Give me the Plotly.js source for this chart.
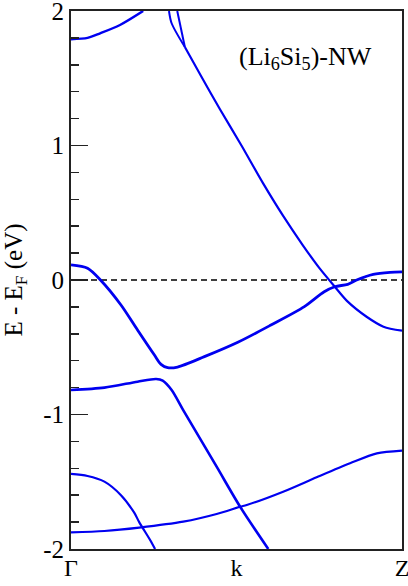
<!DOCTYPE html>
<html>
<head>
<meta charset="utf-8">
<script src="https://cdn.plot.ly/plotly-3.0.1.min.js"></script>
<style>
  html, body { margin: 0; padding: 0; background: #fff; }
  #chart { width: 408px; height: 586px; }
</style>
</head>
<body>
<div id="chart"></div>
<script>
// band energies (eV, relative to E_F) along Γ -> Z, k in [0,1]
var bandA_k = [0, 0.05, 0.088, 0.148, 0.218];
var bandA_E = [1.79, 1.80, 1.834, 1.896, 2.0];

var bandB_k = [0.296, 0.304, 0.344];
var bandB_E = [2.0, 1.909, 1.732];

var bandB2_k = [0.321, 0.344];
var bandB2_E = [2.0, 1.732];

var bandD_k = [0.344, 0.392, 0.45, 0.515, 0.58, 0.64, 0.70, 0.75, 0.797, 0.836, 0.893, 0.944, 1.0];
var bandD_E = [1.732, 1.52, 1.27, 1.0, 0.72, 0.48, 0.26, 0.09, -0.05, -0.161, -0.273, -0.347, -0.377];

var bandC_k = [0, 0.05, 0.089, 0.151, 0.201, 0.252, 0.272, 0.292, 0.322, 0.403, 0.504, 0.604, 0.705, 0.765, 0.797, 0.836, 0.863, 0.913, 0.964, 1.0];
var bandC_E = [0.112, 0.087, 0.0, -0.186, -0.372, -0.558, -0.627, -0.652, -0.647, -0.570, -0.463, -0.335, -0.198, -0.087, -0.05, -0.032, 0.0, 0.042, 0.057, 0.06];

var bandE_k = [0, 0.101, 0.201, 0.257, 0.277, 0.304, 0.339, 0.44, 0.511, 0.596];
var bandE_E = [-0.818, -0.80, -0.756, -0.736, -0.748, -0.818, -0.967, -1.388, -1.686, -2.0];

var bandF_k = [0, 0.101, 0.206, 0.339, 0.44, 0.511, 0.531, 0.641, 0.742, 0.843, 0.924, 1.0];
var bandF_E = [-1.876, -1.866, -1.841, -1.797, -1.74, -1.686, -1.673, -1.574, -1.467, -1.363, -1.289, -1.268];

var bandG_k = [0, 0.05, 0.101, 0.151, 0.191, 0.206, 0.239, 0.254];
var bandG_E = [-1.442, -1.457, -1.499, -1.60, -1.73, -1.80, -1.933, -2.0];

var fermi_k = [0, 1];
var fermi_E = [0, 0];

var kTicks = [0, 0.5, 1];
var kLabels = ["Γ", "k", "Z"];
var eTicks = [-2, -1, 0, 1, 2];
var eLabels = ["-2", "-1", "0", "1", "2"];

var BLUE = "#0000f0";
function band(x, y, w) {
  return { x: x, y: y, mode: "lines", line: { color: BLUE, width: w, shape: "spline", smoothing: 0.8 },
    hoverinfo: "skip", showlegend: false };
}

var traces = [
  { x: fermi_k, y: fermi_E, mode: "lines", line: { color: "#000", width: 1.5, dash: "6px,4px" }, showlegend: false },
  band(bandA_k, bandA_E, 2.5),
  band(bandB_k, bandB_E, 2),
  band(bandB2_k, bandB2_E, 2),
  band(bandD_k, bandD_E, 2.2),
  band(bandC_k, bandC_E, 2.8),
  band(bandE_k, bandE_E, 2.6),
  band(bandF_k, bandF_E, 2.2),
  band(bandG_k, bandG_E, 2.2)
];

var FONT = "Liberation Serif, Times New Roman, serif";

var layout = {
  width: 408, height: 586,
  margin: { l: 71, r: 6, t: 11, b: 37 },
  paper_bgcolor: "#fff", plot_bgcolor: "#fff",
  font: { family: FONT, size: 25, color: "#000" },
  xaxis: {
    range: [0, 1], tickvals: kTicks, ticktext: kLabels, ticks: "",
    showgrid: false, zeroline: false, showline: true, mirror: true,
    linecolor: "#222", linewidth: 2, tickfont: { size: 24, family: FONT },
    ticklabeloverflow: "allow", ticklabelstandoff: -4
  },
  yaxis: {
    range: [-2, 2], tickvals: eTicks, ticktext: eLabels, ticks: "inside", ticklen: 17, tickwidth: 1.5, tickcolor: "#222",
    minor: { dtick: 0.2, ticks: "inside", ticklen: 8, tickwidth: 1.5, tickcolor: "#222", showgrid: false },
    showgrid: false, zeroline: false, showline: true, mirror: true,
    linecolor: "#222", linewidth: 2, tickfont: { size: 25, family: FONT },
    ticklabeloverflow: "allow", ticklabelstandoff: 0,
    title: { text: "E - E<sub>F</sub> (eV)", font: { size: 25, family: FONT }, standoff: 14 }
  },
  annotations: [{
    x: 0.707, y: 1.65, xref: "x", yref: "y", showarrow: false,
    text: "(Li<sub>6</sub>Si<sub>5</sub>)-NW", font: { size: 26, family: FONT }
  }]
};

Plotly.newPlot("chart", traces, layout, { displayModeBar: false, staticPlot: true });
</script>
</body>
</html>
